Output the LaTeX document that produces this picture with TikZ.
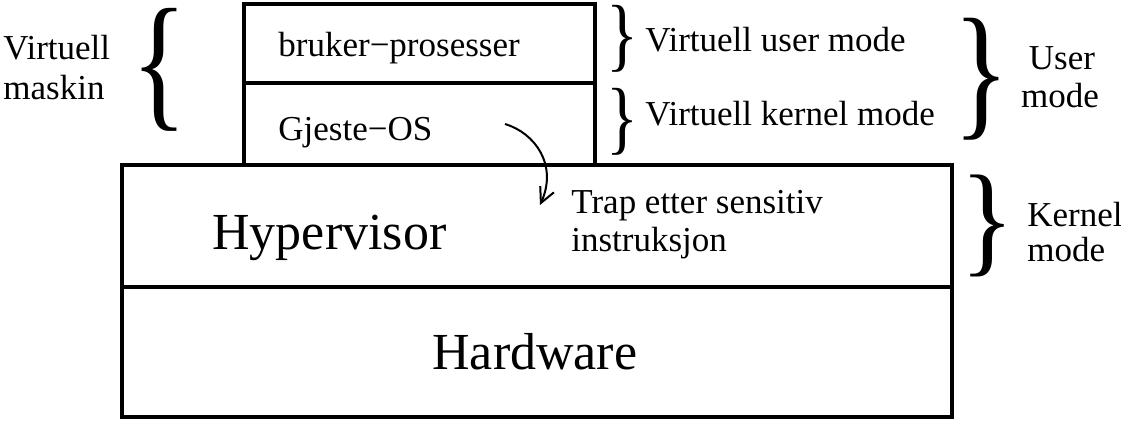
\documentclass[tikz,border=0pt]{standalone}
\usepackage{fontspec}
\usepackage{graphicx}
\setmainfont{Liberation Serif}
\usetikzlibrary{arrows.meta}
\begin{document}
\begin{tikzpicture}[x=0.5pt,y=-0.5pt,
  layer/.style={draw,line width=2pt,rectangle,inner sep=0pt},
  lbl/.style={inner sep=0pt,anchor=base west,font=\fontsize{17.5}{20}\selectfont},
  big/.style={inner sep=0pt,anchor=base west,font=\fontsize{26}{30}\selectfont},
  brc/.style={inner sep=1pt,anchor=center}]
\useasboundingbox (0,0) rectangle (1121,421);
% layers
\node[layer,minimum width=175.5pt,minimum height=39.5pt] (user) at (419.5,43.5) {};
\node[layer,minimum width=175.5pt,minimum height=41pt] (guest) at (419.5,124) {};
\node[layer,minimum width=415pt,minimum height=61pt] (hyp) at (537,226) {};
\node[layer,minimum width=415pt,minimum height=65pt] (hw) at (537,352) {};
% texts in boxes
\node[lbl] (tbp) at (278,57) {bruker\textminus prosesser};
\node[lbl] (tgo) at (278,141) {Gjeste\textminus OS};
\node[big] (thyp) at (212,250) {Hypervisor};
\node[big] (thw) at (432,370) {Hardware};
\node[lbl] (trap1) at (571,214) {Trap etter sensitiv};
\node[lbl] (trap2) at (571,252) {instruksjon};
% left labels
\node[lbl] (vm1) at (3,60) {Virtuell};
\node[lbl] (vm2) at (3,100) {maskin};
% right labels
\node[lbl] (vum) at (645,52) {Virtuell user mode};
\node[lbl] (vkm) at (645,126) {Virtuell kernel mode};
\node[lbl,anchor=base] (um1) at (1062,70) {User};
\node[lbl,anchor=base] (um2) at (1060,108) {mode};
\node[lbl] (km1) at (1027,227) {Kernel};
\node[lbl] (km2) at (1027,262) {mode};
% braces
\node[brc] (bL) at (160,70) {\resizebox*{28pt}{61.5pt}{\{}};
\node[brc] (bU1) at (623,38.5) {\resizebox*{16pt}{33.5pt}{\}}};
\node[brc] (bU2) at (623,121.5) {\resizebox*{16pt}{33.5pt}{\}}};
\node[brc] (bUM) at (982,79) {\resizebox*{28pt}{61pt}{\}}};
\node[brc] (bKM) at (987,226) {\resizebox*{27pt}{51pt}{\}}};
% trap arrow
\coordinate (as) at (505,124);
\coordinate (ae) at (540,205);
\draw[line width=1pt,-{Straight Barb[length=7.5pt,width=7.5pt,line width=1pt]}]
  (as) .. controls (535,133) and (558,165) .. (ae);
\end{tikzpicture}
\end{document}
